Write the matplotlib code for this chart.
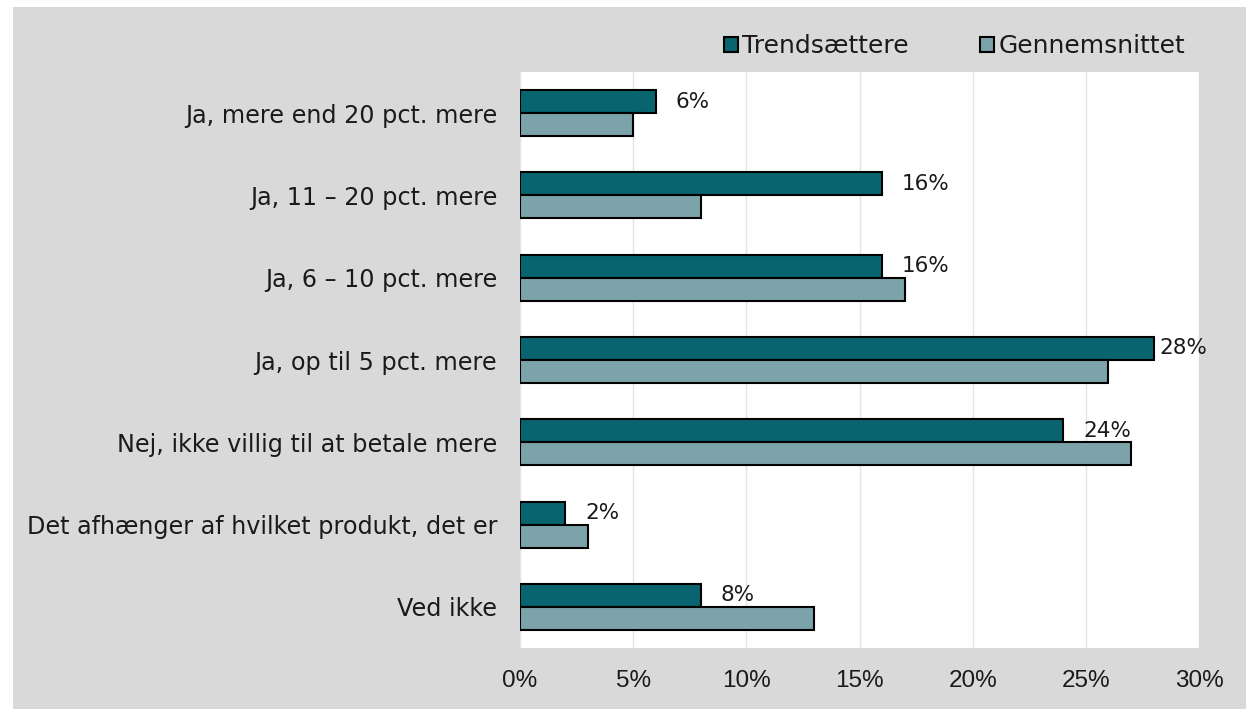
import numpy as np
import matplotlib.pyplot as plt
from matplotlib.patches import Rectangle

# Survey answers, top to bottom
categories = [
    "Ja, mere end 20 pct. mere",
    "Ja, 11 \u2013 20 pct. mere",
    "Ja, 6 \u2013 10 pct. mere",
    "Ja, op til 5 pct. mere",
    "Nej, ikke villig til at betale mere",
    "Det afhænger af hvilket produkt, det er",
    "Ved ikke",
]
trend = [6, 16, 16, 28, 24, 2, 8]
average = [5, 8, 17, 26, 27, 3, 13]
series_names = ["Trendsættere", "Gennemsnittet"]
xticks = [0, 5, 10, 15, 20, 25, 30]

dark = "#08646E"
light = "#7DA3AA"
bg = "#D9D9D9"
txt = "#1a1a1a"

plt.rcParams['font.family'] = ['DejaVu Sans']

fig = plt.figure(figsize=(12.53, 7.09), dpi=100)
fig.patch.set_facecolor("white")
# gray chart area with thin white margin
fig.patches.append(Rectangle((13 / 1253, 0), 1233 / 1253, 702 / 709,
                             transform=fig.transFigure, facecolor=bg,
                             edgecolor="none", zorder=-5))

ax = fig.add_axes([520 / 1253, 1 - 648 / 709, 679 / 1253, 576 / 709])
ax.set_facecolor("white")

y = np.arange(len(categories))
h = 0.28
b1 = ax.barh(y - h / 2, trend, height=h, color=dark, edgecolor="black",
             linewidth=1.5, label=series_names[0], zorder=3)
b2 = ax.barh(y + h / 2, average, height=h, color=light, edgecolor="black",
             linewidth=1.5, label=series_names[1], zorder=3)

# value labels for Trendsættere only (last-fitting one hugs the bar)
for yi, v in zip(y, trend):
    gap = 0.27 if v >= 28 else 0.88
    ax.text(v + gap, yi - h / 2, f"{v}%", fontsize=15.5,
            color=txt, va="center", ha="left", zorder=4)

ax.set_xlim(0, 30)
ax.set_ylim(len(categories) - 0.5, -0.5)
ax.set_xticks(xticks)
ax.set_xticklabels([f"{t}%" for t in xticks], fontsize=17.5, color=txt,
                   family=["Liberation Sans", "DejaVu Sans"])
ax.set_yticks(y)
ax.set_yticklabels(categories, fontsize=17.2, color=txt)
ax.tick_params(length=0, pad=16, axis="x")
ax.tick_params(length=0, pad=16.5, axis="y")
ax.xaxis.grid(True, color="#E3E3E3", linewidth=1, zorder=0)
for s in ax.spines.values():
    s.set_visible(False)

leg = fig.legend(handles=[b1, b2], loc="center left", bbox_to_anchor=(724 / 1253, 1 - 46 / 709),
                 ncol=2, frameon=False, fontsize=18, handlelength=0.55, handleheight=0.55,
                 handletextpad=0.18, columnspacing=2.85, borderpad=0, borderaxespad=0)
for t in leg.get_texts():
    t.set_color(txt)

fig.savefig("out.png", dpi=100, facecolor=fig.get_facecolor())
